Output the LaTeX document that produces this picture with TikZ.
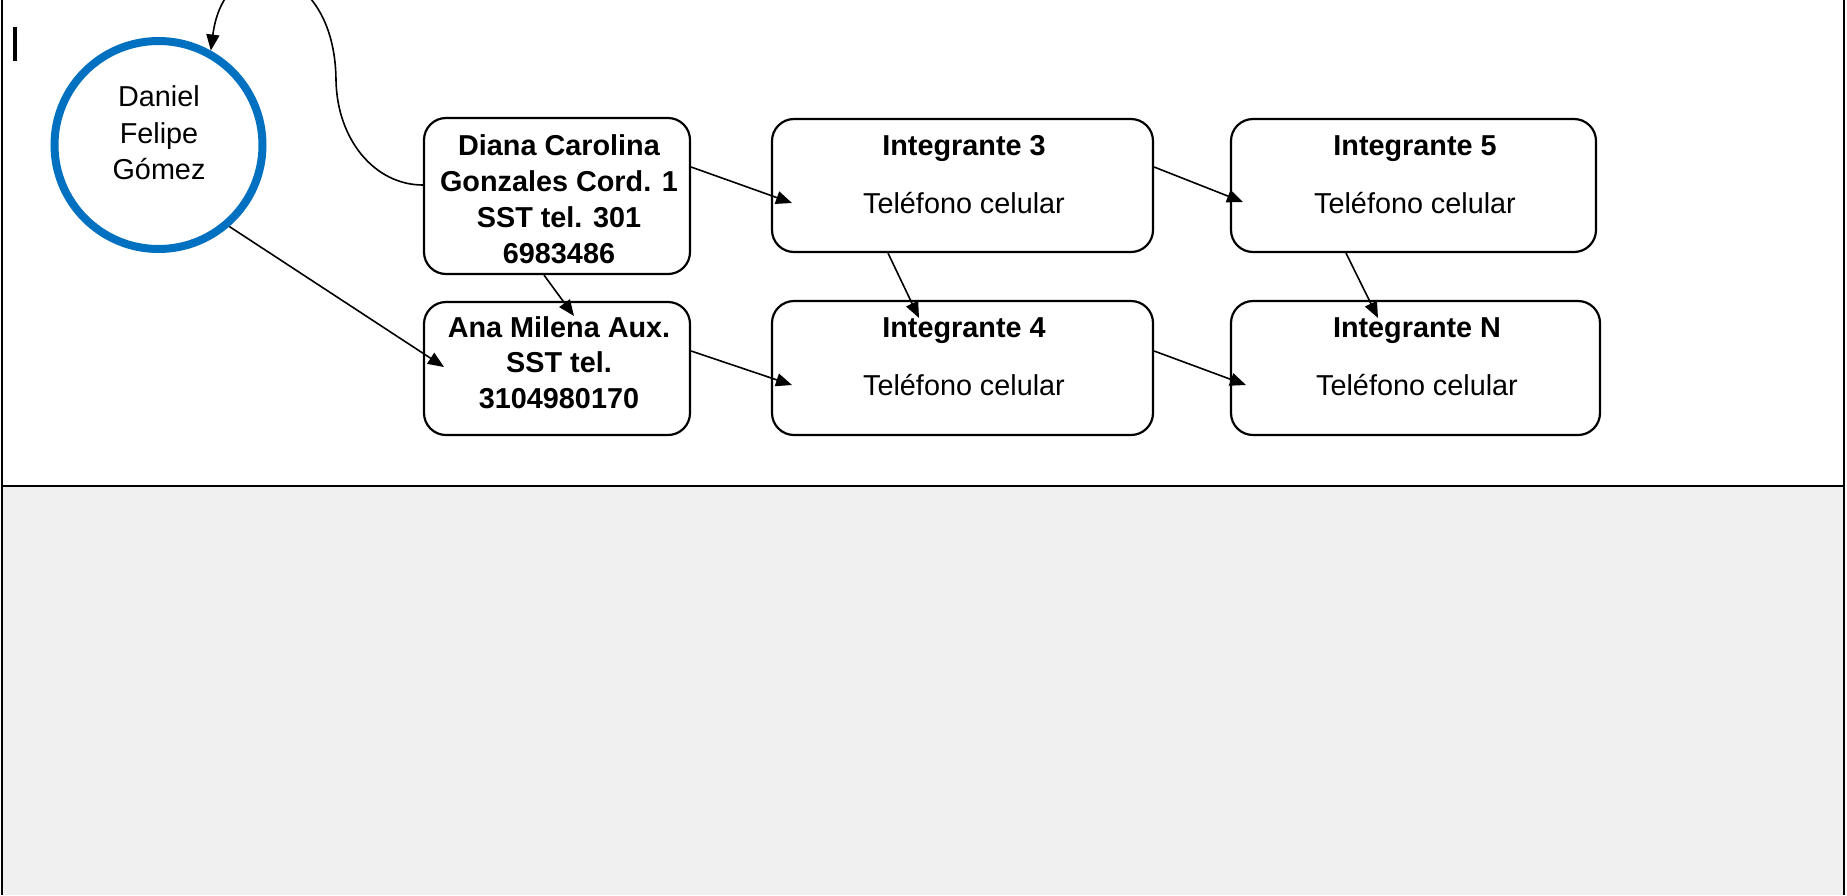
\documentclass[tikz,border=0pt]{standalone}
\usepackage{fontspec}
\setmainfont{Liberation Sans}
\usetikzlibrary{arrows.meta,calc}
\definecolor{circblue}{HTML}{0070C0}
\definecolor{panelgray}{HTML}{F0F0F0}
\begin{document}
\begin{tikzpicture}[x=0.5pt,y=-0.5pt,
  box/.style={draw,line width=1.1pt,rounded corners=11pt,inner sep=0pt},
  txt/.style={align=center,font=\fontsize{14.4}{18}\selectfont},
  bt/.style={align=center,font=\fontsize{14.4}{18}\selectfont\bfseries},
  conn/.style={line width=0.8pt,-{Triangle[length=8pt,width=6.5pt]}}]
\useasboundingbox (0,0) rectangle (1847,895);
% frame and lower panel
\fill[panelgray] (2,486) rectangle (1844,895);
\draw[line width=1.2pt] (2,0) -- (2,895) (1844,0) -- (1844,895) (2,486) -- (1844,486);
\draw[line width=2pt] (15,27) -- (15,61);
% circle
\node[circle,draw=circblue,line width=4pt,minimum size=104pt,inner sep=0pt] (circ) at (158.5,145) {};
\node[txt,font=\fontsize{14.4}{18.3}\selectfont] (circt) at (159,133) {Daniel\\Felipe\\Gómez};
% boxes
\node[box,minimum width=133pt,minimum height=78pt] (dia) at (557,196) {};
\node[bt] (diat) at (559,199) {Diana Carolina\\Gonzales Cord. 1\\SST tel. 301\\6983486};
\node[box,minimum width=133pt,minimum height=66.5pt] (ana) at (557,368.5) {};
\node[bt,font=\fontsize{14.4}{17.8}\selectfont\bfseries] (anat) at (559,362.5) {Ana Milena Aux.\\SST tel.\\3104980170};
\node[box,minimum width=190.5pt,minimum height=66.5pt] (i3) at (962.5,185.5) {};
\node[box,minimum width=182.5pt,minimum height=66.5pt] (i5) at (1413.5,185.5) {};
\node[box,minimum width=190.5pt,minimum height=67pt] (i4) at (962.5,368) {};
\node[box,minimum width=184.5pt,minimum height=67pt] (iN) at (1415.5,368) {};
\node[txt] (i3t) at (964,175) {\textbf{Integrante 3}\\[11pt]Teléfono celular};
\node[txt] (i5t) at (1415,175) {\textbf{Integrante 5}\\[11pt]Teléfono celular};
\node[txt] (i4t) at (964,357) {\textbf{Integrante 4}\\[11pt]Teléfono celular};
\node[txt] (iNt) at (1417,357) {\textbf{Integrante N}\\[11pt]Teléfono celular};
% arrow tips
\coordinate (t-i3) at (792,203);
\coordinate (t-i5) at (1243,202);
\coordinate (t-i4) at (792,385);
\coordinate (t-iN) at (1246,385);
\coordinate (t-ana) at (574,316);
\coordinate (t-ana2) at (444,367);
\coordinate (t-i4b) at (919,318);
\coordinate (t-iNb) at (1378,318);
\coordinate (bend) at (336,80);
% connectors
\draw[conn] ($(dia.west)+(0,-11)$) .. controls (375,185) and (337,140) .. (bend)
  .. controls (335,-40) and (225,-60) .. (circ.61);
\draw[conn] ($(dia.east)+(0,-29)$) -- (t-i3);
\draw[conn] ($(i3.east)+(0,-18.5)$) -- (t-i5);
\draw[conn] ($(ana.east)+(0,-17.5)$) -- (t-i4);
\draw[conn] ($(i4.east)+(0,-17)$) -- (t-iN);
\draw[conn] ($(dia.south)+(-13,0)$) -- (t-ana);
\draw[conn] ($(i3.south)+(-74.5,0)$) -- (t-i4b);
\draw[conn] ($(i5.south)+(-67.5,0)$) -- (t-iNb);
\draw[conn] (circ.-49.5) -- (t-ana2);
\end{tikzpicture}
\end{document}
